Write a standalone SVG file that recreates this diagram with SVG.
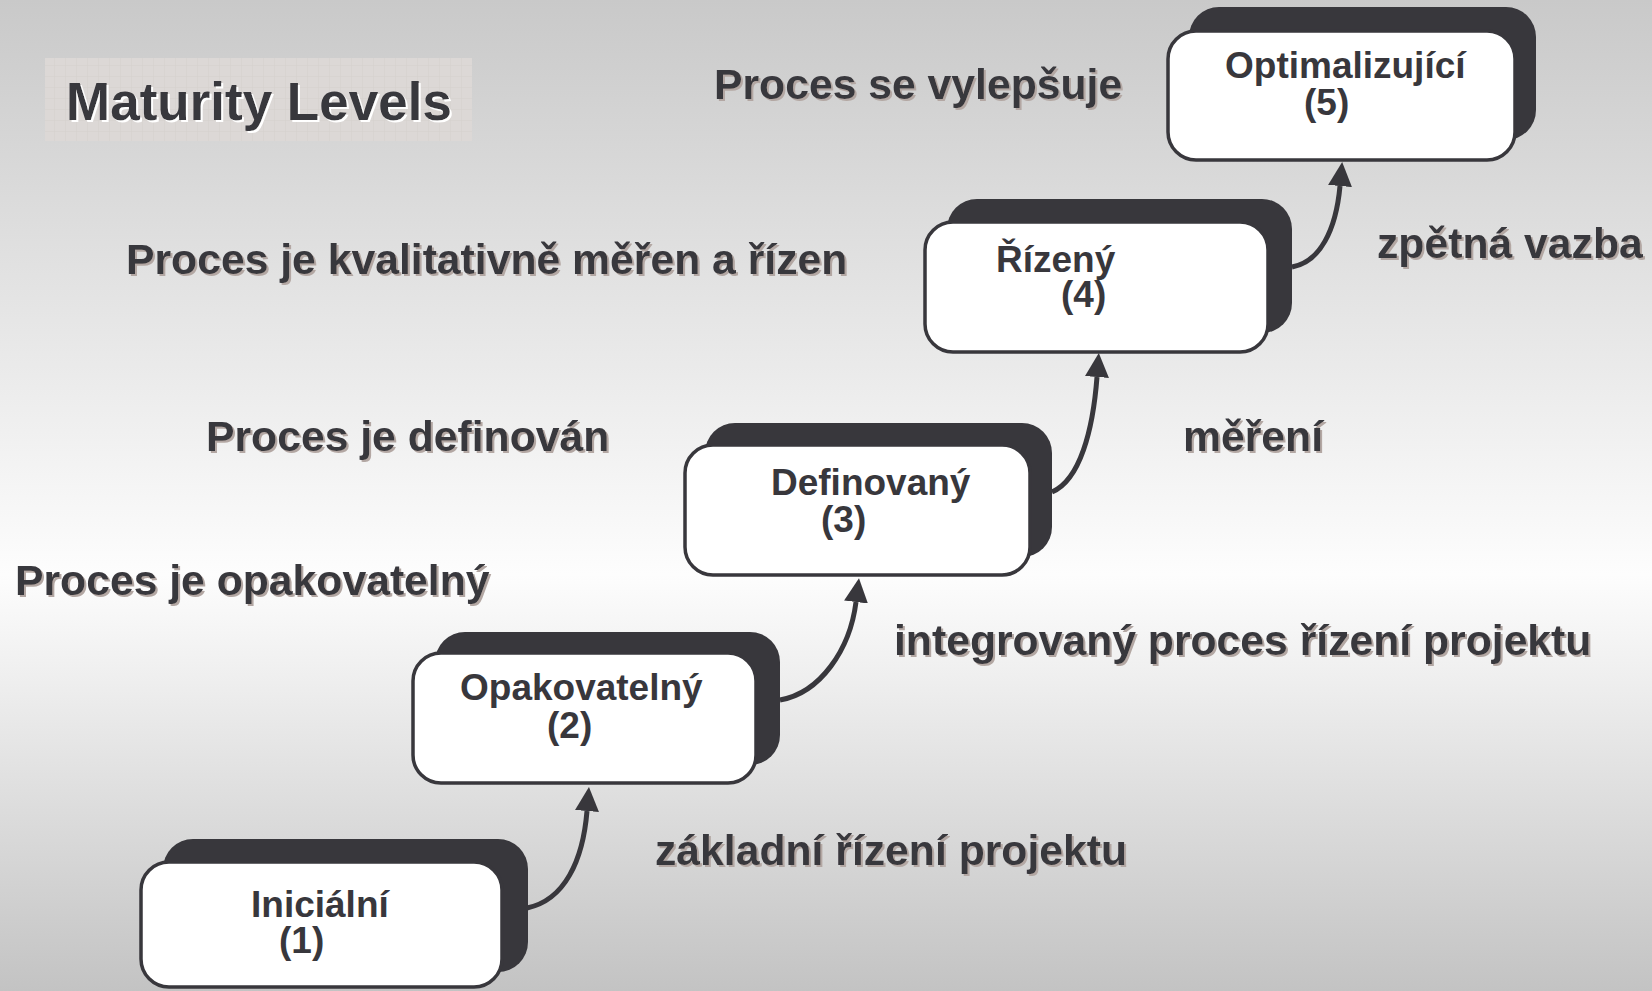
<svg xmlns="http://www.w3.org/2000/svg" width="1652" height="991" viewBox="0 0 1652 991">
  <defs>
    <linearGradient id="bg" x1="0" y1="0" x2="0" y2="1">
      <stop offset="0" stop-color="#c9c9c9"/>
      <stop offset="0.58" stop-color="#fdfdfd"/>
      <stop offset="1" stop-color="#c3c3c3"/>
    </linearGradient>
    <pattern id="grid" width="11" height="11" patternUnits="userSpaceOnUse">
      <rect width="11" height="11" fill="#dcd8d6"/>
      <path d="M11 0V11M0 11H11" stroke="#d5d0cd" stroke-width="1" fill="none"/>
    </pattern>
    <filter id="labelShadow" x="-5%" y="-20%" width="110%" height="140%">
      <feDropShadow dx="2" dy="2" stdDeviation="0.4" flood-color="#b3a7a3" flood-opacity="1"/>
    </filter>
    <filter id="titleShadow" x="-5%" y="-20%" width="110%" height="140%">
      <feDropShadow dx="2" dy="2" stdDeviation="0.3" flood-color="#ffffff" flood-opacity="1"/>
    </filter>
    <marker id="head" viewBox="0 0 24 24" refX="0" refY="12" markerWidth="24" markerHeight="24" markerUnits="userSpaceOnUse" orient="auto">
      <path d="M0,0 L24,12 L0,24 Z" fill="#38373c"/>
    </marker>
    <style>
      text { font-family: "Liberation Sans", Arial, sans-serif; font-weight: bold; fill: #38373c; }
      .title { font-size: 53px; }
      .label { font-size: 42.7px; }
      .name { font-size: 37px; }
      .back { fill: #38373c; }
      .face { fill: #ffffff; stroke: #38373c; stroke-width: 3.5; }
      .link { fill: none; stroke: #38373c; stroke-width: 5; marker-end: url(#head); }
    </style>
  </defs>

  <!-- background -->
  <rect width="1652" height="991" fill="url(#bg)"/>

  <!-- heading -->
  <g id="heading">
    <rect x="45" y="58" width="427" height="83" fill="url(#grid)"/>
    <text class="title" x="66" y="120" filter="url(#titleShadow)">Maturity Levels</text>
  </g>

  <!-- level descriptions -->
  <g id="descriptions" filter="url(#labelShadow)">
    <text class="label" x="714" y="99">Proces se vylepšuje</text>
    <text class="label" x="126" y="274">Proces je kvalitativně měřen a řízen</text>
    <text class="label" x="206" y="451">Proces je definován</text>
    <text class="label" x="15" y="595">Proces je opakovatelný</text>
  </g>

  <!-- transition labels -->
  <g id="transitions" filter="url(#labelShadow)">
    <text class="label" x="1377" y="258">zpětná vazba</text>
    <text class="label" x="1183" y="451">měření</text>
    <text class="label" x="894" y="655">integrovaný proces řízení projektu</text>
    <text class="label" x="655" y="865">základní řízení projektu</text>
  </g>

  <!-- connectors -->
  <g id="connectors">
    <path class="link" d="M527,908 C565,900 583,860 587,811"/>
    <path class="link" d="M780,700 C820,693 850,650 856,602"/>
    <path class="link" d="M1052,492 C1080,480 1093,430 1097,377"/>
    <path class="link" d="M1292,267 C1320,262 1336,230 1340,186"/>
  </g>

  <!-- level 1 -->
  <g id="level1">
    <rect class="back" x="163" y="839" width="365" height="133" rx="30"/>
    <rect class="face" x="141" y="862" width="361" height="125" rx="28"/>
    <text class="name" x="251" y="917">Iniciální</text>
    <text class="name" x="279" y="953">(1)</text>
  </g>

  <!-- level 2 -->
  <g id="level2">
    <rect class="back" x="435" y="632" width="345" height="133" rx="30"/>
    <rect class="face" x="413" y="653" width="343" height="130" rx="28"/>
    <text class="name" x="460" y="700">Opakovatelný</text>
    <text class="name" x="547" y="738">(2)</text>
  </g>

  <!-- level 3 -->
  <g id="level3">
    <rect class="back" x="705" y="423" width="347" height="134" rx="30"/>
    <rect class="face" x="685" y="445" width="345" height="130" rx="28"/>
    <text class="name" x="771" y="495">Definovaný</text>
    <text class="name" x="821" y="532">(3)</text>
  </g>

  <!-- level 4 -->
  <g id="level4">
    <rect class="back" x="947" y="199" width="345" height="134" rx="30"/>
    <rect class="face" x="925" y="222" width="343" height="130" rx="28"/>
    <text class="name" x="996" y="272">Řízený</text>
    <text class="name" x="1061" y="307">(4)</text>
  </g>

  <!-- level 5 -->
  <g id="level5">
    <rect class="back" x="1189" y="7" width="347" height="133" rx="30"/>
    <rect class="face" x="1168" y="31" width="347" height="129" rx="28"/>
    <text class="name" x="1225" y="78">Optimalizující</text>
    <text class="name" x="1304" y="115">(5)</text>
  </g>
</svg>
